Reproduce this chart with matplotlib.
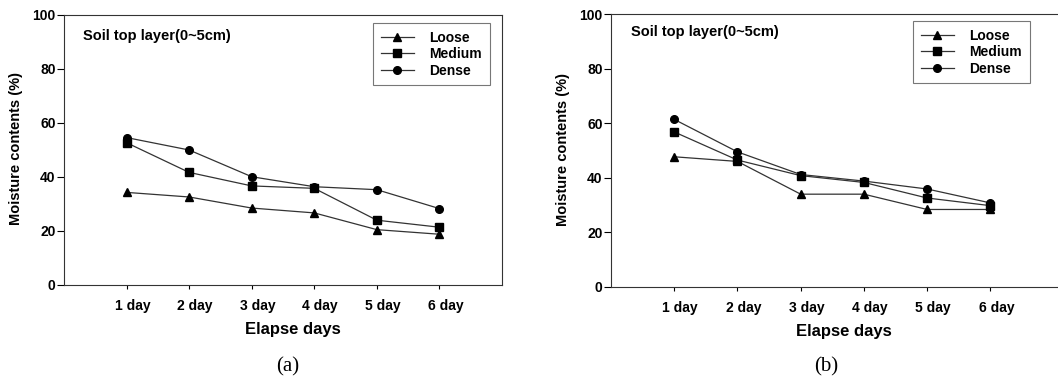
"""
Soil moisture contents over elapsed days, top layer (0~5cm)
Two panels (a) and (b), three compaction levels each.
"""

import matplotlib
matplotlib.use("Agg")
import matplotlib.pyplot as plt
from matplotlib.transforms import ScaledTranslation

plt.rcParams["font.family"] = ["Liberation Sans", "DejaVu Sans"]
plt.rcParams["font.weight"] = "bold"

# ---------------------------------------------------------------------------
# Data
# ---------------------------------------------------------------------------
days = ["1 day", "2 day", "3 day", "4 day", "5 day", "6 day"]
series_names = ["Loose", "Medium", "Dense"]

# panel (a)
loose_a = [34.3, 32.6, 28.5, 26.7, 20.5, 18.8]
medium_a = [52.7, 41.7, 36.7, 35.8, 24.0, 21.4]
dense_a = [54.6, 50.0, 40.1, 36.4, 35.3, 28.3]

# panel (b)
loose_b = [47.7, 46.0, 34.0, 34.0, 28.4, 28.4]
medium_b = [56.8, 46.5, 40.8, 38.3, 32.6, 29.8]
dense_b = [61.4, 49.5, 41.2, 38.8, 35.9, 30.8]

yticks = [0, 20, 40, 60, 80, 100]
markers = ["^", "s", "o"]

# ---------------------------------------------------------------------------
# Figure
# ---------------------------------------------------------------------------
W, H = 1058, 381
fig = plt.figure(figsize=(W / 100, H / 100), dpi=100)


def px_axes(left, top, right, bottom):
    return fig.add_axes([left / W, 1 - bottom / H, (right - left) / W, (bottom - top) / H])


ax_a = px_axes(64, 15, 502, 285)
ax_b = px_axes(611, 14, 1058, 287)

panels = [
    (ax_a, [loose_a, medium_a, dense_a], 7.0, (373, 23), (0.043, 0.922), (0.523, -0.137), -0.094),
    (ax_b, [loose_b, medium_b, dense_b], 7.07, (913, 21), (0.045, 0.934), (0.521, -0.136), -0.092),
]

x = list(range(1, len(days) + 1))

for ax, data, xmax, leg_pos, note_pos, xlab_pos, ylab_x in panels:
    for vals, mk, name in zip(data, markers, series_names):
        ax.plot(x, vals, color="#333333", lw=0.9, marker=mk, ms=5.5,
                mfc="black", mec="black", label=name)

    ax.set_xlim(0, xmax)
    ax.set_ylim(0, 100)
    ax.set_yticks(yticks)
    ax.set_xticks(x)
    ax.set_xticklabels(days, fontsize=10, fontweight="bold")
    ax.tick_params(axis="y", direction="out", length=5, width=0.8, pad=1, labelsize=10)
    ax.tick_params(axis="x", direction="out", length=3, width=0.8, pad=7)
    for lab in ax.get_yticklabels():
        lab.set_fontweight("bold")
    # tick labels sit slightly right of their tick in the original
    offset = ScaledTranslation(6 / 100, 0, fig.dpi_scale_trans)
    for lab in ax.get_xticklabels():
        lab.set_transform(lab.get_transform() + offset)

    for sp in ax.spines.values():
        sp.set_linewidth(0.8)
        sp.set_color("#333333")

    ax.set_xlabel("Elapse days", fontsize=12, fontweight="bold")
    ax.xaxis.set_label_coords(*xlab_pos)
    ax.set_ylabel("Moisture contents (%)", fontsize=10.5, fontweight="bold")
    ax.yaxis.set_label_coords(ylab_x, 0.505)

    ax.text(note_pos[0], note_pos[1], "Soil top layer(0~5cm)", transform=ax.transAxes,
            fontsize=10.5, fontweight="bold", va="center", ha="left")

    leg = ax.legend(loc="upper left", bbox_to_anchor=(leg_pos[0] / W, 1 - leg_pos[1] / H),
                    bbox_transform=fig.transFigure, borderaxespad=0, fancybox=False,
                    frameon=True, handlelength=2.4, handletextpad=1.1, labelspacing=0.18,
                    borderpad=0.55, prop={"size": 10, "weight": "bold"})
    leg.get_frame().set_edgecolor("#555555")
    leg.get_frame().set_linewidth(0.8)

# panel (b) runs off the right edge: no right spine visible
ax_b.spines["right"].set_visible(False)

fig.text(288 / W, (H - 367) / H, "(a)", ha="center", va="center",
         fontsize=15, family="Liberation Serif", fontweight="normal")
fig.text(826 / W, (H - 367) / H, "(b)", ha="center", va="center",
         fontsize=15, family="Liberation Serif", fontweight="normal")

fig.savefig("out.png", dpi=100)
